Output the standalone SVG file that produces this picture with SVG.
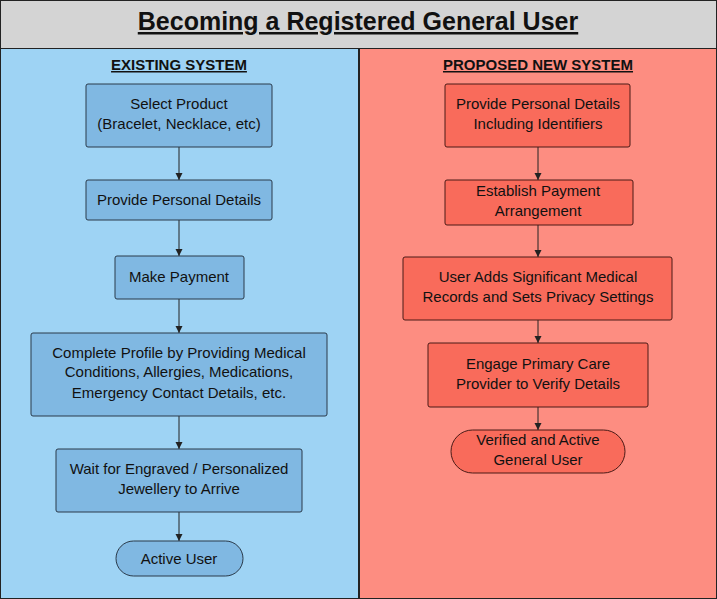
<svg xmlns="http://www.w3.org/2000/svg" width="717" height="599" viewBox="0 0 717 599">
<style>
text{font-family:"Liberation Sans",Arial,sans-serif;fill:#111;text-anchor:middle}
.t{font-size:15px}
.h{font-size:15px;font-weight:bold;text-decoration:underline}
.b{fill:#80b8e2;stroke:#2a3a4a;stroke-width:1}
.r{fill:#f96b5b;stroke:#4a1a16;stroke-width:1}
.c{stroke:#222;stroke-width:1;fill:none;marker-end:url(#a)}
</style>
<defs><marker id="a" markerWidth="8" markerHeight="8" refX="7" refY="4" orient="auto" markerUnits="userSpaceOnUse"><path d="M0,0.5L7,4L0,7.5Z" fill="#222"/></marker></defs>
<rect x="0" y="0" width="717" height="599" fill="#222"/>
<rect x="1" y="1" width="715" height="47" fill="#d4d4d4"/>
<rect x="1" y="49" width="357" height="549" fill="#9ed3f4"/>
<rect x="360" y="49" width="356" height="549" fill="#fd8d81"/>
<text x="358" y="30" style="font-size:25px;font-weight:bold;text-decoration:underline">Becoming a Registered General User</text>
<text class="h" x="179" y="70">EXISTING SYSTEM</text>
<text class="h" x="538" y="70">PROPOSED NEW SYSTEM</text>
<g id="connectors">
<path class="c" d="M179,147V180"/><path class="c" d="M179,220V256"/><path class="c" d="M179,299V333"/><path class="c" d="M179,416V449"/><path class="c" d="M179,512V541"/>
<path class="c" d="M538,147V180"/><path class="c" d="M538,225V257"/><path class="c" d="M538,320V343"/><path class="c" d="M538,407V430"/>
</g>
<g id="e1"><rect class="b" x="86" y="84" width="186" height="63" rx="2"/><text class="t" x="179" y="109">Select Product</text><text class="t" x="179" y="129">(Bracelet, Necklace, etc)</text></g>
<g id="e2"><rect class="b" x="86" y="180" width="186" height="40" rx="2"/><text class="t" x="179" y="205">Provide Personal Details</text></g>
<g id="e3"><rect class="b" x="115" y="256" width="129" height="43" rx="2"/><text class="t" x="179" y="282">Make Payment</text></g>
<g id="e4"><rect class="b" x="31" y="333" width="296" height="83" rx="2"/><text class="t" x="179" y="358">Complete Profile by Providing Medical</text><text class="t" x="179" y="377">Conditions, Allergies, Medications,</text><text class="t" x="179" y="398">Emergency Contact Details, etc.</text></g>
<g id="e5"><rect class="b" x="56" y="449" width="246" height="63" rx="2"/><text class="t" x="179" y="474">Wait for Engraved / Personalized</text><text class="t" x="179" y="494">Jewellery to Arrive</text></g>
<g id="e6"><rect class="b" x="116" y="541" width="127" height="35" rx="17.5"/><text class="t" x="179" y="564">Active User</text></g>
<g id="p1"><rect class="r" x="445" y="84" width="185" height="63" rx="2"/><text class="t" x="538" y="109">Provide Personal Details</text><text class="t" x="538" y="129">Including Identifiers</text></g>
<g id="p2"><rect class="r" x="445" y="180" width="188" height="45" rx="2"/><text class="t" x="538" y="196">Establish Payment</text><text class="t" x="538" y="216">Arrangement</text></g>
<g id="p3"><rect class="r" x="403" y="257" width="269" height="63" rx="2"/><text class="t" x="538" y="282">User Adds Significant Medical</text><text class="t" x="538" y="302">Records and Sets Privacy Settings</text></g>
<g id="p4"><rect class="r" x="428" y="343" width="220" height="64" rx="2"/><text class="t" x="538" y="369">Engage Primary Care</text><text class="t" x="538" y="389">Provider to Verify Details</text></g>
<g id="p5"><rect class="r" x="451" y="430" width="174" height="43" rx="21.5"/><text class="t" x="538" y="445">Verified and Active</text><text class="t" x="538" y="465">General User</text></g>
</svg>
